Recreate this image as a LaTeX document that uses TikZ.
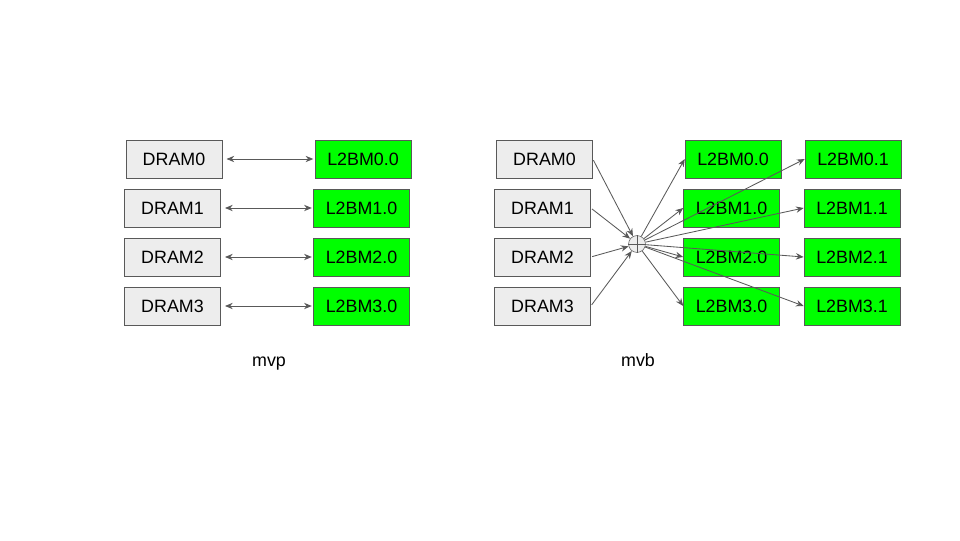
\documentclass[tikz,border=0pt]{standalone}
\usepackage{fontspec}
\setmainfont{Liberation Sans}
\usetikzlibrary{arrows.meta}
\tikzset{
  dram/.style={draw=black!65,fill=black!7,minimum width=2.4cm,minimum height=0.95cm,font=\fontsize{12.7}{15}\selectfont},
  l2bm/.style={draw=black!65,fill=green,minimum width=2.4cm,minimum height=0.95cm,font=\fontsize{12.7}{15}\selectfont},
  caption/.style={anchor=base,font=\fontsize{12.7}{15}\selectfont},
  link/.style={draw=black!65,line width=0.6pt,-{Stealth[length=5.5pt,width=4.5pt]}},
  dlink/.style={draw=black!65,line width=0.6pt,{Stealth[length=5.5pt,width=4.5pt]}-{Stealth[length=5.5pt,width=4.5pt]}}
}
\begin{document}
\begin{tikzpicture}[x=0.025cm,y=-0.025cm]
	\useasboundingbox (0,0) rectangle (960,540);
	% mvp
	\node[dram] (pd0) at (174,159) {DRAM0};
	\node[l2bm] (pl0) at (363,159) {L2BM0.0};
	\foreach \i/\y in {1/208,2/257,3/306} {
		\node[dram] (pd\i) at (172.5,\y) {DRAM\i};
		\node[l2bm] (pl\i) at (361.5,\y) {L2BM\i.0};
	}
	\foreach \i in {0,...,3}
		\draw[dlink,shorten <=3pt,shorten >=1pt] (pd\i.east) -- (pl\i.west);
	\node[caption] (mvp) at (269,366) {mvp};
	% mvb
	\node[dram] (bd0) at (544.5,159) {DRAM0};
	\node[l2bm] (ba0) at (733,159) {L2BM0.0};
	\node[l2bm] (bb0) at (853,159) {L2BM0.1};
	\foreach \i/\y in {1/208,2/257,3/306} {
		\node[dram] (bd\i) at (542.5,\y) {DRAM\i};
		\node[l2bm] (ba\i) at (731.5,\y) {L2BM\i.0};
		\node[l2bm] (bb\i) at (852,\y) {L2BM\i.1};
	}
	\node[draw=black!65,fill=black!7,circle,inner sep=0pt,minimum size=12] (mux) at (637,244) {};
	\draw[black!65,line width=0.5pt] (mux.north) -- (mux.south) (mux.west) -- (mux.east);
	\foreach \i in {0,...,3} {
		\draw[link,shorten <=1pt] (bd\i.east) -- (mux);
		\draw[link] (mux) -- (ba\i.west);
		\draw[link] (mux) -- (bb\i.west);
	}
	\node[caption] (mvb) at (638,366) {mvb};
\end{tikzpicture}
\end{document}
